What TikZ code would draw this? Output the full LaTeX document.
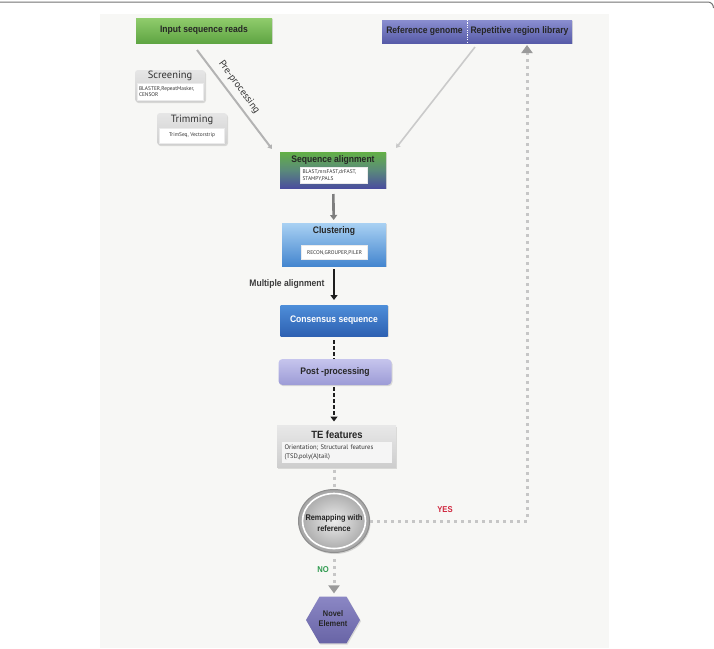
\documentclass[tikz,border=0pt]{standalone}
\usepackage{fontspec}
\setmainfont{Liberation Sans}
\newfontfamily\hd{Liberation Sans}[FakeStretch=0.9]
\newfontfamily\my{PT Sans}
\usetikzlibrary{arrows.meta,shapes.geometric,shadows,calc}
\definecolor{panel}{HTML}{F7F7F5}
\definecolor{ttl}{HTML}{262626}
\definecolor{dotc}{HTML}{C6C6C6}
\definecolor{tipc}{HTML}{9A9A9A}
\definecolor{inpT}{HTML}{90CC6C}
\definecolor{inpB}{HTML}{5FA543}
\definecolor{refT}{HTML}{8A8ED0}
\definecolor{refB}{HTML}{575BA8}
\definecolor{grT}{HTML}{E6E6E6}
\definecolor{grB}{HTML}{CFCFCF}
\definecolor{saT}{HTML}{63B046}
\definecolor{saM}{HTML}{5A8A7A}
\definecolor{saB}{HTML}{4A4E9E}
\definecolor{clT}{HTML}{A9D1F3}
\definecolor{clB}{HTML}{4486CF}
\definecolor{coT}{HTML}{4E8ED9}
\definecolor{coB}{HTML}{2E61B2}
\definecolor{poT}{HTML}{C6C5ED}
\definecolor{poB}{HTML}{9C9BD6}
\definecolor{teT}{HTML}{E8E8E8}
\definecolor{teB}{HTML}{CDCDCD}
\definecolor{teI}{HTML}{F5F5F5}
\definecolor{rmI}{HTML}{ECECEC}
\definecolor{rmO}{HTML}{A5A5A5}
\definecolor{rmD}{HTML}{8E8E8E}
\definecolor{nvT}{HTML}{8B87C4}
\definecolor{nvB}{HTML}{6864A6}
\definecolor{ppc}{HTML}{B3B3B3}
\definecolor{rfc}{HTML}{CACACA}
\definecolor{g1}{HTML}{7E7E7E}
\definecolor{blk}{HTML}{1E1E1E}
\definecolor{malc}{HTML}{3C3C3C}
\definecolor{noc}{HTML}{2E9A4E}
\definecolor{yesc}{HTML}{D0243C}
\tikzset{
  bx/.style={inner sep=0pt, outer sep=0pt, draw=none, drop shadow={shadow xshift=1pt, shadow yshift=-1.2pt, opacity=0.25}},
  ttlfont/.style={font=\hd\bfseries\fontsize{9.5}{11}\selectfont, text=ttl},
  hdrfont/.style={font=\my\fontsize{10.5}{12}\selectfont, text=black!80},
  toolfont/.style={font=\my\fontsize{5.4}{6.4}\selectfont, text=black!80},
  wbox/.style={fill=white, inner sep=0pt, draw=black!8, line width=0.4pt},
  dotline/.style={draw=dotc, line width=3pt, dash pattern=on 3pt off 4pt},
  dtip/.style={-{Triangle[width=11pt,length=8pt,color=tipc]}},
}
\begin{document}
\begin{tikzpicture}[x=1pt,y=-1pt]
\useasboundingbox (0,0) rectangle (714,648);
\fill[white] (0,0) rectangle (714,648);
\fill[panel] (100,14) rectangle (609,648);
\draw[black!55, line width=1pt] (-2,2) -- (708,2) to[out=0,in=90] (713.5,8);

% top boxes
\node[bx, minimum width=136, minimum height=25, top color=inpT, bottom color=inpB, ttlfont] (inp) at (204,30.5) {Input sequence reads};
\node[bx, minimum width=85, minimum height=23, top color=refT, bottom color=refB, ttlfont, anchor=east] (refg) at (467,31.5) {Reference genome};
\node[bx, minimum width=105, minimum height=23, top color=refT, bottom color=refB, ttlfont, anchor=west] (repl) at (467,31.5) {Repetitive region library};
\draw[white, line width=1pt, dash pattern=on 1.2pt off 1.2pt] (refg.north east) -- (refg.south east);

% screening / trimming
\node[bx, rounded corners=3pt, minimum width=70, minimum height=32, top color=grT, bottom color=grB] (scr) at (170,86) {};
\node[hdrfont] (scrh) at (170,76) {Screening};
\node[wbox, minimum width=66, minimum height=17, toolfont, align=left, text width=62] (scrt) at (170,91.5) {BLASTER,RepeatMasker,\\CENSOR};
\node[bx, rounded corners=3pt, minimum width=70, minimum height=32, top color=grT, bottom color=grB] (trm) at (192,129) {};
\node[hdrfont] (trmh) at (192,120) {Trimming};
\node[wbox, minimum width=65, minimum height=15, toolfont] (trmt) at (192,135.5) {TrimSeq, Vectorstrip};

% main column
\node[bx, minimum width=106, minimum height=36, top color=saT, bottom color=saB, middle color=saM] (sa) at (333,170) {};
\node[ttlfont] (sah) at (333,160.5) {Sequence alignment};
\node[wbox, minimum width=67, minimum height=16, toolfont, align=left, text width=63] (sat) at (334,175.5) {BLAST,mrsFAST,drFAST,\\STAMPY,PALS};

\node[bx, minimum width=104, minimum height=43, top color=clT, bottom color=clB] (cl) at (334,244.5) {};
\node[ttlfont] (clh) at (334,231) {Clustering};
\node[wbox, minimum width=66, minimum height=14, toolfont] (clt) at (334.5,252.5) {RECON,GROUPER,PILER};

\node[bx, minimum width=107, minimum height=31, top color=coT, bottom color=coB, ttlfont, text=white] (cons) at (334,320.5) {Consensus sequence};

\node[bx, rounded corners=4pt, minimum width=113, minimum height=26, top color=poT, bottom color=poB, ttlfont] (post) at (335,372) {Post -processing};

\node[bx, minimum width=119, minimum height=42, top color=teT, bottom color=teB] (te) at (336.5,446.5) {};
\node[ttlfont, font=\hd\bfseries\fontsize{10.5}{12}\selectfont] (teh) at (337,435) {TE features};
\node[fill=teI, inner sep=0pt, minimum width=110, minimum height=21, font=\my\fontsize{6.6}{9.5}\selectfont, text=black!80, align=left, text width=105] (tet) at (337,452.5) {Orientation; Structural features\\(TSD,poly(A)tail)};

\node[ellipse, minimum width=71, minimum height=63, inner sep=0pt, inner color=rmI, outer color=rmO, draw=rmD, line width=1pt, drop shadow={shadow xshift=1pt, shadow yshift=-1.5pt, opacity=0.3}] (remap) at (334,521) {};
\draw[white, line width=1.6pt] (remap.center) ellipse (31.5 and 27.5);
\node[ttlfont, font=\hd\bfseries\fontsize{8.2}{10.5}\selectfont, align=center] (remapt) at (334,523) {Remapping with\\reference};

\node[regular polygon, regular polygon sides=6, minimum size=54, inner sep=0pt, top color=nvT, bottom color=nvB, drop shadow={shadow xshift=1pt, shadow yshift=-1.2pt, opacity=0.25}] (novel) at (333,620) {};
\node[ttlfont, font=\hd\bfseries\fontsize{8.2}{10.5}\selectfont, align=center] (novelt) at (333,618.5) {Novel\\Element};

% connectors
\coordinate (pp1) at ($(inp.south)+(-7,7)$);
\draw[ppc, line width=2pt, -{Triangle[width=5pt,length=4pt]}] (pp1) -- ($(sa.north west)+(-8,-3)$);
\node[font=\my\fontsize{10}{12}\selectfont, text=black!80, rotate=-54] (ppl) at (239,87) {Pre-processing};

\coordinate (rf1) at ($(repl.south west)+(8,4)$);
\draw[rfc, line width=1.6pt, -{Triangle[width=5pt,length=4pt]}] (rf1) -- ($(sa.north east)+(10,-4)$);

\draw[g1, line width=2.6pt, -{Triangle[width=7pt,length=5pt]}, shorten <=6pt, shorten >=3pt] (sa) -- (cl);
\draw[blk, line width=2.6pt, -{Triangle[width=7pt,length=5pt]}, shorten <=3pt, shorten >=5pt] (cl) -- (cons);
\node[ttlfont, text=malc, anchor=east] (mal) at (328,284) {Multiple alignment};
\draw[blk, line width=2.6pt, dash pattern=on 3.5pt off 2.5pt, shorten <=4pt, shorten >=0pt] (cons.south) -- (post.north -| cons.south);
\draw[blk, line width=2.6pt, dash pattern=on 3.5pt off 2.5pt, -{Triangle[width=7pt,length=5pt]}, shorten <=2pt, shorten >=4pt] (post.south -| cons.south) -- (te.north -| cons.south);

\draw[dotline, shorten <=2pt, shorten >=2pt] (te.south -| remap.north) -- (remap.north);
\draw[dotline, dtip, shorten <=6pt, shorten >=3pt] (remap.south) -- (novel.north -| remap.south);
\node[font=\hd\bfseries\fontsize{8.5}{10}\selectfont, text=noc] (no) at (323,570) {NO};

\coordinate (fb) at (527,521);
\draw[dotline, dtip, shorten >=2pt] (remap.east) -- (fb) -- (fb |- repl.south);
\node[font=\hd\bfseries\fontsize{8.5}{10}\selectfont, text=yesc] (yes) at (445,510) {YES};
\end{tikzpicture}
\end{document}
